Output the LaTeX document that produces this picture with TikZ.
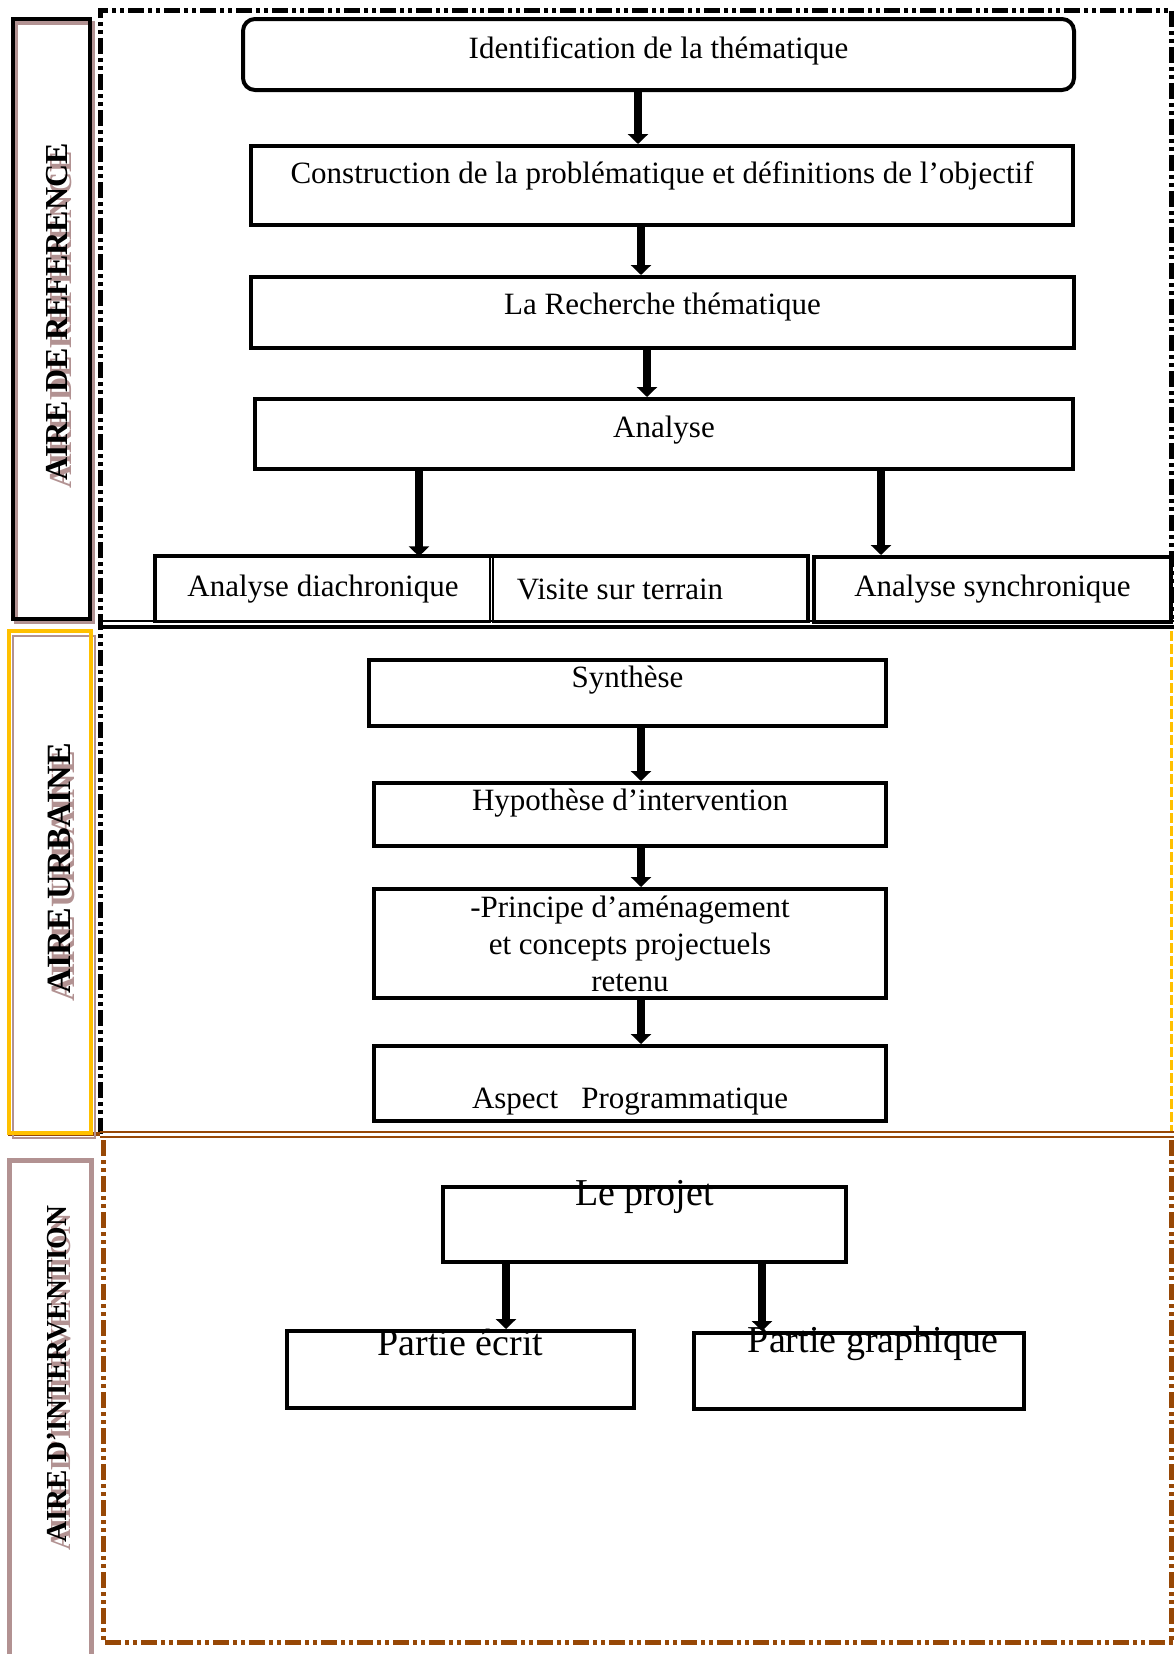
\documentclass[tikz,border=0pt]{standalone}
\usepackage{fontspec}
\setmainfont{Liberation Serif}
\usetikzlibrary{arrows.meta}

\definecolor{orcolor}{RGB}{255,192,0}
\definecolor{bruncolor}{RGB}{151,72,6}
\definecolor{ombrecolor}{RGB}{178,146,146}

\begin{document}
\begin{tikzpicture}[x=0.5pt, y=-0.5pt,
    etape/.style={draw, line width=2pt, inner sep=0pt},
    txt/.style={font=\fontsize{15.5}{18.5}\selectfont, align=center},
    grandtxt/.style={font=\fontsize{19}{22}\selectfont},
    fleche/.style={line width=4pt, -{Triangle[width=10pt,length=5pt]}},
    etiquette/.style={rotate=90, font=\fontsize{#1}{#1}\selectfont\bfseries},
    pointille/.style={line width=2.5pt, dash pattern=on 8pt off 2pt on 2pt off 2pt on 2pt off 2pt}]
      \useasboundingbox (0,0) rectangle (1174,1654);

      % Draw the frames of the three areas
      \draw[pointille] (100,1134) -- (100,10) -- (1171,10) -- (1171,622);
      \draw[line width=0.8pt] (100,621) -- (1174,621);
      \draw[line width=1.6pt] (100,627) -- (1174,627);
      \draw[orcolor, line width=1.5pt, dash pattern=on 5pt off 1.5pt] (1171,631) -- (1171,1131);
      \draw[bruncolor, line width=2pt] (8,1134) -- (100,1134);
      \draw[bruncolor, line width=0.8pt] (100,1132) -- (1174,1132);
      \draw[bruncolor, line width=0.8pt] (100,1137) -- (1174,1137);
      \draw[pointille, bruncolor] (103,1140) -- (103,1642) -- (1174,1642);
      \draw[pointille, bruncolor] (1171,1140) -- (1171,1640);

      % Side boxes with their shadows
      \draw[ombrecolor, line width=2pt] (16,23) rectangle (93,622);
      \draw[line width=2pt] (13,19) rectangle (90,619);
      \draw[ombrecolor, line width=1.2pt] (13,636) rectangle (95,1138);
      \draw[orcolor, line width=2pt] (9,631) rectangle (91,1133);
      \draw[ombrecolor, line width=2.5pt] (9,1660) |- (91,1160) -- (91,1660);

      % Side labels
      \node[etiquette=16, text=ombrecolor] (ref-o) at (61,320) {AIRE DE REFERENCE};
      \node[etiquette=16] (ref) at (57,312) {AIRE DE REFERENCE};
      \node[etiquette=17, text=ombrecolor] (urb-o) at (63,876) {AIRE URBAINE};
      \node[etiquette=17] (urb) at (59,868) {AIRE URBAINE};
      \node[etiquette=14.5, text=ombrecolor] (int-o) at (61,1382) {AIRE D’INTERVENTION};
      \node[etiquette=14.5] (int) at (57,1374) {AIRE D’INTERVENTION};

      % Aire de reference
      \node[etape, rounded corners=6pt, minimum width=415.5pt, minimum height=35.5pt,
        label={[txt, yshift=1.75pt]center:Identification\ de la thématique}] (ident) at (658.5,54.5) {};
      \node[etape, minimum width=411pt, minimum height=39.5pt,
        label={[txt, yshift=4.75pt]center:Construction\ de la problématique\ et définitions\ de l’objectif}] (constr) at (662,185.5) {};
      \node[etape, minimum width=411.5pt, minimum height=35.5pt,
        label={[txt, yshift=2.75pt]center:La Recherche thématique}] (rech) at (662.5,312.5) {};
      \node[etape, minimum width=409pt, minimum height=35pt,
        label={[txt, yshift=2pt]center:Analyse}] (anal) at (664,434) {};
      \node[etape, line width=0.6pt, minimum width=167pt, minimum height=32.5pt,
        label={[txt]center:Analyse\ diachronique}] (diachro) at (323,589.5) {};
      \node[etape, line width=0.6pt, minimum width=157pt, minimum height=32.5pt,
        label={[txt, xshift=-15pt]center:Visite\ sur\ terrain}] (visite) at (650,589.5) {};
      \draw[line width=2pt] (diachro.south west) |- (visite.north east) -- (visite.south east);
      \node[etape, minimum width=178.5pt, minimum height=32.5pt,
        label={[txt]center:Analyse\ synchronique}] (synchro) at (992.5,589.5) {};

      % Aire urbaine
      \node[etape, minimum width=258.5pt, minimum height=33pt,
        label={[txt, yshift=6.5pt]center:Synthèse}] (synth) at (627.5,693) {};
      \node[etape, minimum width=256pt, minimum height=31.5pt,
        label={[txt, yshift=5.75pt]center:Hypothèse\ d’intervention}] (hypo) at (630,814.5) {};
      \node[etape, minimum width=256pt, minimum height=54.5pt,
        label={[txt]center:-Principe\ d’aménagement\\et concepts projectuels\\retenu}] (princ) at (630,943.5) {};
      \node[etape, minimum width=256pt, minimum height=37.5pt,
        label={[txt, yshift=-9.25pt]center:Aspect\ \ \ Programmatique}] (aspect) at (630,1083.5) {};

      % Aire d'intervention
      \node[etape, minimum width=201.5pt, minimum height=37.5pt,
        label={[grandtxt, yshift=13.75pt]center:Le projet}] (projet) at (644.5,1224.5) {};
      \node[etape, minimum width=173.5pt, minimum height=38.5pt,
        label={[grandtxt, yshift=13.75pt]center:Partie écrit}] (ecrit) at (460.5,1369.5) {};
      \node[etape, minimum width=165pt, minimum height=38pt,
        label={[grandtxt, xshift=7pt, yshift=14pt]center:Partie graphique}] (graph) at (859,1371) {};

      % Arrows
      \draw[fleche] (ident.south -| 638,0) -- (constr.north -| 638,0);
      \draw[fleche] (constr.south -| 641,0) -- (rech.north -| 641,0);
      \draw[fleche] (rech.south -| 647,0) -- (anal.north -| 647,0);
      \draw[fleche] (anal.south -| 419,0) -- (diachro.north -| 419,0);
      \draw[fleche] (anal.south -| 881,0) -- (synchro.north -| 881,0);
      \draw[fleche] (synth.south -| 641,0) -- (hypo.north -| 641,0);
      \draw[fleche] (hypo.south -| 641,0) -- (princ.north -| 641,0);
      \draw[fleche] (princ.south -| 641,0) -- (aspect.north -| 641,0);
      \draw[fleche] (projet.south -| 506,0) -- (ecrit.north -| 506,0);
      \draw[fleche] (projet.south -| 762,0) -- (graph.north -| 762,0);
    \end{tikzpicture}
\end{document}
